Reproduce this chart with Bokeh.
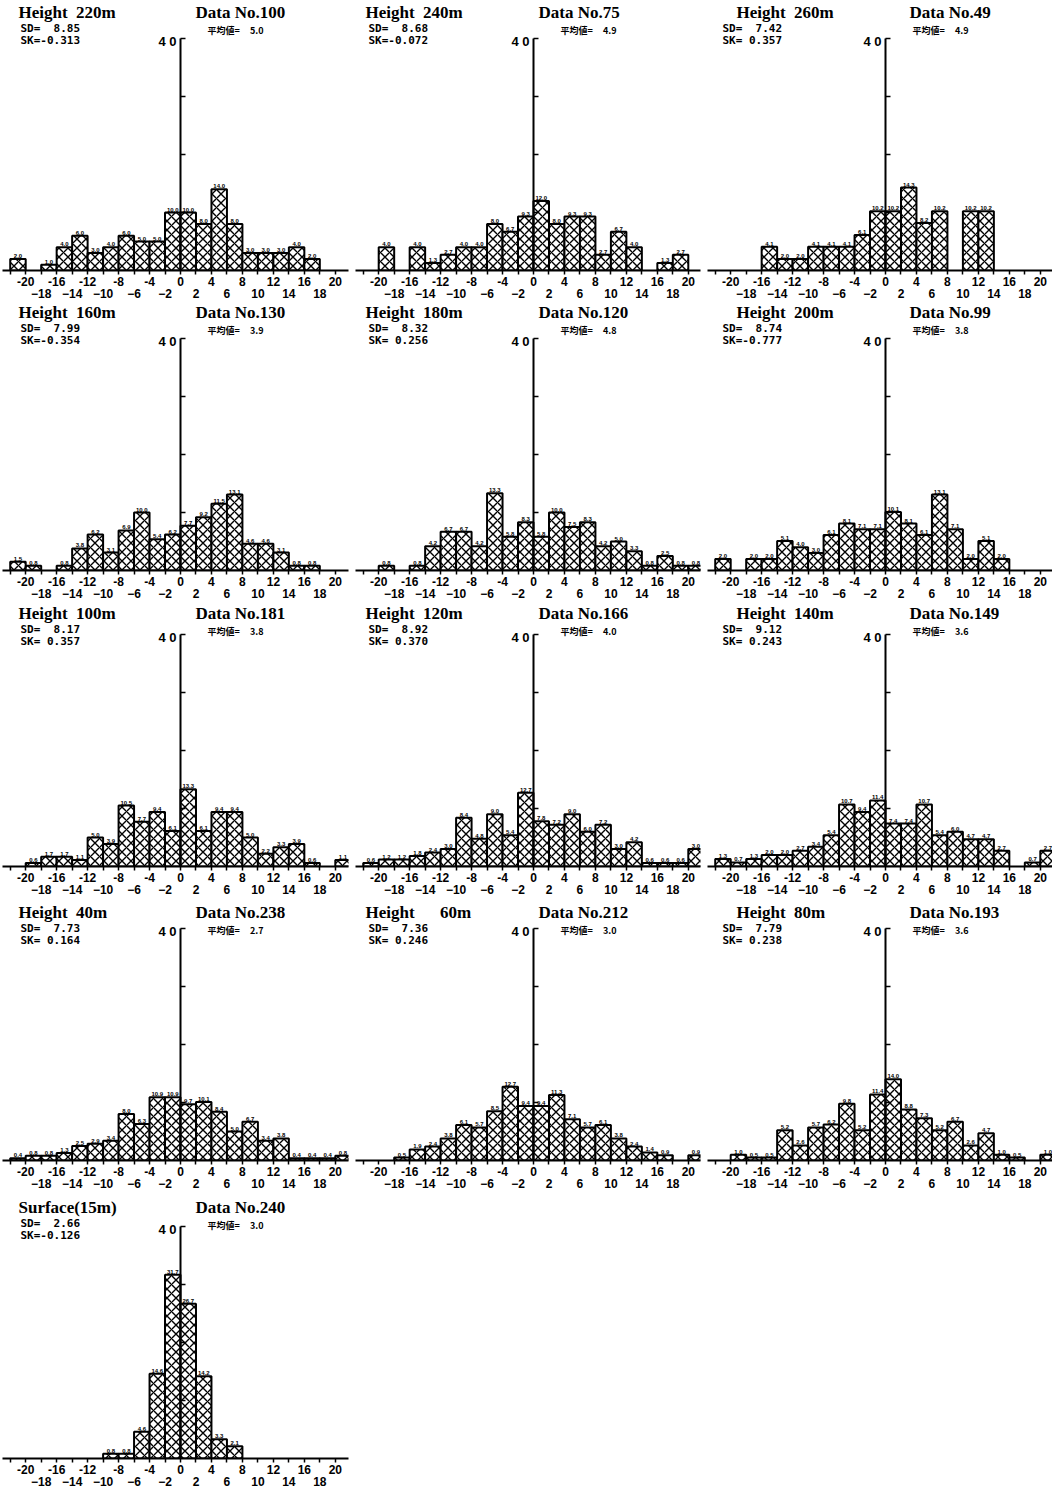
from bokeh.plotting import figure
from bokeh.models import Range1d, LinearAxis, FixedTicker, Label, ColumnDataSource
from bokeh.layouts import column, row
from bokeh.embed import file_html
from bokeh.resources import INLINE
from bokeh.core.properties import value

# ---------------- data ----------------
# class intervals of width 2, left edges -22 ... 20
bin_left = list(range(-22, 21, 2))
x_ticks = list(range(-22, 23, 2))
x_labels_upper = list(range(-20, 21, 4))
x_labels_lower = list(range(-18, 19, 4))
y_ticks = [10, 20, 30, 40]

# relative frequency (%) per class
h220 = [2.0, 0, 1.0, 4.0, 6.0, 3.0, 4.0, 6.0, 5.0, 5.0, 10.0, 10.0, 8.0, 14.0, 8.0, 3.0, 3.0, 3.0, 4.0, 2.0, 0, 0]
h240 = [0, 4.0, 0, 4.0, 1.3, 2.7, 4.0, 4.0, 8.0, 6.7, 9.3, 12.0, 8.0, 9.3, 9.3, 2.7, 6.7, 4.0, 0, 1.3, 2.7, 0]
h260 = [0, 0, 0, 4.1, 2.0, 2.0, 4.1, 4.1, 4.1, 6.1, 10.2, 10.2, 14.3, 8.2, 10.2, 0, 10.2, 10.2, 0, 0, 0, 0]
h160 = [1.5, 0.8, 0, 0.8, 3.8, 6.2, 3.1, 6.9, 10.0, 5.4, 6.2, 7.7, 9.2, 11.5, 13.1, 4.6, 4.6, 3.1, 0.8, 0.8, 0, 0]
h180 = [0, 0.8, 0, 0.8, 4.2, 6.7, 6.7, 4.2, 13.3, 5.8, 8.3, 5.8, 10.0, 7.5, 8.3, 4.2, 5.0, 3.3, 0.8, 2.5, 0.8, 0.8]
h200 = [2.0, 0, 2.0, 2.0, 5.1, 4.0, 3.0, 6.1, 8.1, 7.1, 7.1, 10.1, 8.1, 6.1, 13.1, 7.1, 2.0, 5.1, 2.0, 0, 0, 0]
h100 = [0, 0.6, 1.7, 1.7, 1.1, 5.0, 3.9, 10.5, 7.7, 9.4, 6.1, 13.3, 6.1, 9.4, 9.4, 5.0, 2.2, 3.3, 3.9, 0.6, 0, 1.1]
h120 = [0.6, 1.2, 1.2, 1.8, 2.4, 3.0, 8.4, 4.8, 9.0, 5.4, 12.7, 7.8, 7.2, 9.0, 6.0, 7.2, 3.0, 4.2, 0.6, 0.6, 0.6, 3.0]
h140 = [1.3, 0.7, 1.3, 2.0, 2.0, 2.7, 3.4, 5.4, 10.7, 9.4, 11.4, 7.4, 7.4, 10.7, 5.4, 6.0, 4.7, 4.7, 2.7, 0, 0.7, 2.7]
h40 = [0.4, 0.8, 0.8, 1.3, 2.5, 2.9, 3.4, 8.0, 6.3, 10.9, 10.9, 9.7, 10.1, 8.4, 5.0, 6.7, 3.4, 3.8, 0.4, 0.4, 0.4, 0.8]
h60 = [0, 0, 0.5, 1.9, 2.4, 3.8, 6.1, 5.7, 8.5, 12.7, 9.4, 9.4, 11.3, 7.1, 5.7, 6.1, 3.8, 2.4, 1.4, 0.9, 0, 0.9]
h80 = [0, 1.0, 0.5, 0.5, 5.2, 2.6, 5.7, 6.2, 9.8, 5.2, 11.4, 14.0, 8.8, 7.3, 5.2, 6.7, 2.6, 4.7, 1.0, 0.5, 0, 1.0]
h15 = [0, 0, 0, 0, 0, 0, 0.8, 0.8, 4.6, 14.6, 31.7, 26.7, 14.2, 3.3, 2.1, 0, 0, 0, 0, 0, 0, 0]

NB = "\u00a0"
panel_titles = ["Height" + NB * 2 + "220m", "Height" + NB * 2 + "240m", "Height" + NB * 2 + "260m",
                "Height" + NB * 2 + "160m", "Height" + NB * 2 + "180m", "Height" + NB * 2 + "200m",
                "Height" + NB * 2 + "100m", "Height" + NB * 2 + "120m", "Height" + NB * 2 + "140m",
                "Height" + NB * 2 + "40m", "Height" + NB * 6 + "60m", "Height" + NB * 2 + "80m",
                "Surface(15m)"]
data_no = ["Data No.100", "Data No.75", "Data No.49",
           "Data No.130", "Data No.120", "Data No.99",
           "Data No.181", "Data No.166", "Data No.149",
           "Data No.238", "Data No.212", "Data No.193",
           "Data No.240"]
sd_text = ["8.85", "8.68", "7.42", "7.99", "8.32", "8.74", "8.17", "8.92", "9.12",
           "7.73", "7.36", "7.79", "2.66"]
sk_text = ["-0.313", "-0.072", " 0.357", "-0.354", " 0.256", "-0.777", " 0.357", " 0.370", " 0.243",
           " 0.164", " 0.246", " 0.238", "-0.126"]
mean_text = ["5.0", "4.9", "4.9", "3.9", "4.8", "3.8", "3.8", "4.0", "3.6", "2.7", "3.0", "3.6", "3.0"]
series = [h220, h240, h260, h160, h180, h200, h100, h120, h140, h40, h60, h80, h15]

# ---------------- layout / style ----------------
PX_X = 7.74      # px per class unit
PX_Y = 5.8       # px per percent
ZERO_PX = 180    # local x position of x=0
BL = 2
BB = 34
col_widths = [353, 352, 347]
col_right = [5, 5, 0]
baselines = [270, 570, 866, 1160, 1458]
title_y = [12, 8, 9, 12, 13]          # title centre below frame top (px)
height_x = [-162, -168, -149]
data_x = [15, 5, 24]
sd_x = [-160, -165, -163]

row_tops, frame_hs, row_heights = [], [], []
_top = 0
for b in baselines:
    fh_ = b - _top
    row_tops.append(_top)
    frame_hs.append(fh_)
    row_heights.append(fh_ + BB)
    _top += fh_ + BB

SERIF = "Liberation Serif"
SANS = "Liberation Sans"
MONO = "DejaVu Sans Mono"
CJK = "Noto Sans CJK JP"


def make_panel(i, r, c):
    vals = series[i]
    w = col_widths[c]
    h = row_heights[r]
    fw = w - BL - col_right[c]
    fh = frame_hs[r]
    x0 = -(ZERO_PX - BL) / PX_X
    x1 = x0 + fw / PX_X
    y1 = fh / PX_Y
    p = figure(width=w, height=h, x_range=Range1d(x0, x1), y_range=Range1d(0, y1),
               output_backend="svg", toolbar_location=None, y_axis_location=None,
               min_border_left=BL, min_border_right=col_right[c], min_border_top=0,
               min_border_bottom=BB)
    p.grid.visible = False
    p.outline_line_color = None
    p.background_fill_color = "white"
    p.border_fill_color = "white"

    # x axis (upper label row)
    xa = p.xaxis[0]
    xa.ticker = FixedTicker(ticks=x_ticks, minor_ticks=[])
    xa.major_label_overrides = {t: (str(t) if t in x_labels_upper else "") for t in x_ticks}
    xa.axis_line_width = 2
    xa.axis_line_color = "black"
    xa.major_tick_out = 4
    xa.major_tick_in = 0
    xa.minor_tick_out = 0
    xa.minor_tick_in = 0
    xa.major_tick_line_width = 1.5
    xa.major_tick_line_color = "black"
    xa.major_label_standoff = 2
    xa.major_label_text_font = SANS
    xa.major_label_text_font_size = "12px"
    xa.major_label_text_font_style = "bold"
    xa.major_label_text_color = "black"

    # lower label row
    xb = LinearAxis(ticker=FixedTicker(ticks=x_labels_lower, minor_ticks=[]),
                    axis_line_color=None, major_tick_in=0, major_tick_out=0,
                    minor_tick_in=0, minor_tick_out=0, major_label_standoff=0,
                    major_label_text_font=SANS, major_label_text_font_size="12px",
                    major_label_text_font_style="bold", major_label_text_color="black")
    p.add_layout(xb, "below")

    # vertical axis through x = 0
    ya = LinearAxis(fixed_location=0, bounds=(0, 40), ticker=FixedTicker(ticks=y_ticks, minor_ticks=[]),
                    major_tick_in=5, major_tick_out=0, minor_tick_in=0, minor_tick_out=0,
                    axis_line_width=2, axis_line_color="black", major_tick_line_width=1.5,
                    major_tick_line_color="black",
                    major_label_overrides={t: "" for t in y_ticks},
                    major_label_text_font_size="0px", major_label_standoff=0)
    p.add_layout(ya, "left")

    # bars
    nz = [(l, v) for l, v in zip(bin_left, vals) if v > 0]
    src = ColumnDataSource(dict(
        left=[l for l, _ in nz], right=[l + 2 for l, _ in nz],
        top=[v for _, v in nz], mid=[l + 1 for l, _ in nz],
        lab=[f"{v:.1f}" for _, v in nz]))
    p.quad(left="left", right="right", bottom=0, top="top", source=src,
           fill_color="white", line_color="black", line_width=2,
           hatch_pattern="x", hatch_color="black", hatch_scale=9, hatch_weight=1.4)
    p.text(x="mid", y="top", text="lab", source=src, text_font=value(SANS),
           text_font_size="6px", text_font_style="bold", text_align="center",
           text_baseline="bottom", y_offset=-1, text_color="black")

    # header texts (positions in px: x from the zero line, y down from frame top)
    def lab(xp, ydown, txt, font, size, align="left"):
        p.add_layout(Label(x=xp / PX_X, y=(fh - ydown) / PX_Y, text=txt, text_font=font,
                           text_font_size=size, text_font_style="bold", text_align=align,
                           text_baseline="middle", text_color="black"))

    ty = title_y[r]
    lab(height_x[c], ty, panel_titles[i], SERIF, "17px")
    lab(data_x[c], ty, data_no[i], SERIF, "17px")
    lab(sd_x[c], ty + 16, "SD=" + NB * 2 + sd_text[i], MONO, "11px")
    lab(sd_x[c], ty + 28, "SK=" + sk_text[i].replace(" ", NB), MONO, "11px")
    lab(27, ty + 18, "平均値=" + NB * 5 + mean_text[i], CJK, "9px")
    axis_top_down = fh - 40 * PX_Y
    lab(-4, axis_top_down + 3, "4 0", SANS, "13px", align="right")
    return p


grid = [[0, 1, 2], [3, 4, 5], [6, 7, 8], [9, 10, 11], [12]]
rows = []
for r, idxs in enumerate(grid):
    rows.append(row(*[make_panel(i, r, c) for c, i in enumerate(idxs)]))
layout = column(*rows)

open("out.html", "w").write(file_html(layout, INLINE))
